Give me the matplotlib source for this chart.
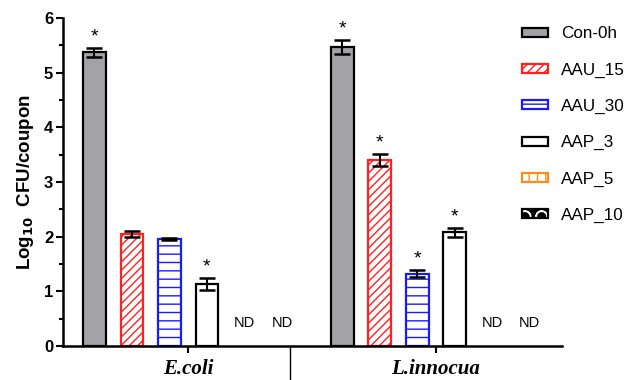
import numpy as np
import matplotlib
matplotlib.use("Agg")
import matplotlib.pyplot as plt
from matplotlib.patches import Patch
from matplotlib.transforms import blended_transform_factory

# data
groups = ["E.coli", "L.innocua"]
series = ["Con-0h", "AAU_15", "AAU_30", "AAP_3", "AAP_5", "AAP_10"]
ecoli = [5.37, 2.05, 1.95, 1.13, np.nan, np.nan]
ecoli_err = [0.08, 0.06, 0.02, 0.11, np.nan, np.nan]
linnocua = [5.47, 3.40, 1.32, 2.08, np.nan, np.nan]
linnocua_err = [0.12, 0.11, 0.065, 0.08, np.nan, np.nan]
ecoli_star = [True, False, False, True, False, False]
linnocua_star = [True, True, True, True, False, False]

faces = ["#a3a3a7", "white", "white", "white", "white", "black"]
edges = ["black", "#ff2020", "#1a1aff", "black", "#ff8c1a", "black"]
hatches = [None, "////", "--", None, "||", None]

plt.rcParams["font.family"] = ["Liberation Sans", "DejaVu Sans"]
plt.rcParams["hatch.linewidth"] = 1.0

fig = plt.figure(figsize=(6.3, 3.8), dpi=100)
ax = fig.add_axes([63 / 630, 34 / 380, (562 - 63) / 630, (346 - 18) / 380])

width = 0.61
offsets = [0.0, 6.61]
for gi, (vals, errs, stars) in enumerate([(ecoli, ecoli_err, ecoli_star),
                                           (linnocua, linnocua_err, linnocua_star)]):
    x = offsets[gi] + np.arange(len(series))
    for i in range(len(series)):
        if np.isnan(vals[i]):
            ax.text(x[i], 0.42, "ND", ha="center", va="center", fontsize=10.5)
            continue
        ax.bar(x[i], vals[i], width, color=faces[i], edgecolor=edges[i],
               hatch=hatches[i], linewidth=1.6, zorder=2)
        ax.errorbar(x[i], vals[i], yerr=errs[i], fmt="none", ecolor="black",
                    elinewidth=1.5, capsize=5.5, capthick=1.8, zorder=3)
        if stars[i]:
            ax.text(x[i], vals[i] + errs[i] + 0.05, "*", ha="center",
                    va="bottom", fontsize=14)

ax.set_xlim(-0.84, 12.47)
ax.set_ylim(0, 6)
ax.set_yticks(np.arange(0, 7, 1))
ax.set_yticks(np.arange(0.5, 6, 1), minor=True)
ax.set_yticklabels([str(v) for v in range(7)], fontweight="bold", fontsize=12)
ax.set_ylabel("Log$_{\\mathbf{10}}$  CFU/coupon", fontweight="bold", fontsize=13.5,
              labelpad=6)

centers = [offsets[0] + 2.5, offsets[1] + 2.5]
ax.set_xticks(centers)
ax.set_xticklabels(groups, fontfamily="Liberation Serif", fontstyle="italic",
                   fontweight="bold", fontsize=15)
ax.tick_params(axis="x", length=5, width=1.5, pad=4)
ax.tick_params(axis="y", which="major", length=5, width=1.5, pad=2)
ax.tick_params(axis="y", which="minor", length=3, width=1.5)

for s in ["top", "right"]:
    ax.spines[s].set_visible(False)
for s in ["left", "bottom"]:
    ax.spines[s].set_linewidth(1.8)

# group separator below the axis
trans = blended_transform_factory(ax.transData, ax.transAxes)
ax.plot([5.21, 5.21], [0, -0.105], color="black", lw=1.0, transform=trans,
        clip_on=False)

handles = [Patch(facecolor=faces[i], edgecolor=edges[i], hatch=hatches[i],
                 linewidth=1.6) for i in range(5)]
# AAP_10: black box with white dots
handles.append((Patch(facecolor="black", edgecolor="white", hatch="O", lw=0),
                Patch(facecolor="none", edgecolor="black", lw=1.6)))
fig.legend(handles=handles, labels=series, loc="upper left",
           bbox_to_anchor=(522 / 630, 1 - 26.5 / 380), frameon=False,
           fontsize=12.3, handlelength=1.55, handleheight=0.42,
           labelspacing=1.24, handletextpad=0.75, borderpad=0,
           borderaxespad=0)

fig.savefig("out.png", dpi=100)
